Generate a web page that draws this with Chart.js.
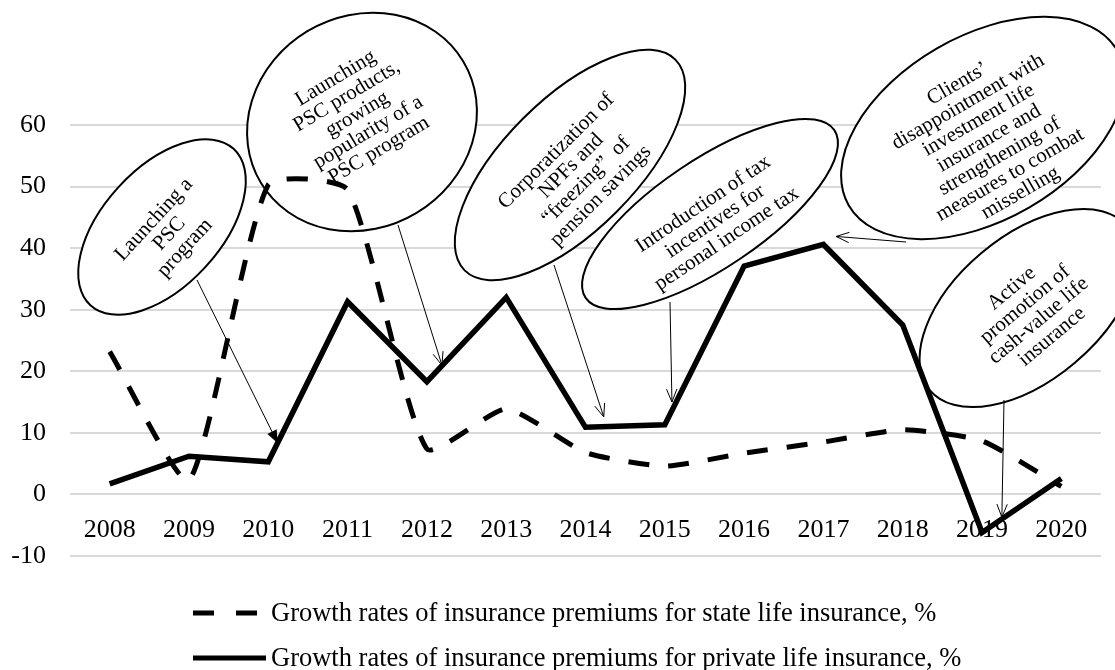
<!DOCTYPE html>
<html>
<head>
<meta charset="utf-8">
<script src="https://cdn.jsdelivr.net/npm/chart.js@4.4.1/dist/chart.umd.min.js"></script>
<style>
  html, body { margin: 0; padding: 0; background: #fff; }
</style>
</head>
<body>
<canvas id="growthChart" width="1115" height="670"></canvas>
<script>
const years = ['2008', '2009', '2010', '2011', '2012', '2013', '2014', '2015', '2016', '2017', '2018', '2019', '2020'];
const stateGrowth = [23.2, 2.3, 50.3, 49.5, 7.4, 13.9, 6.8, 4.6, 6.7, 8.5, 10.5, 8.7, 1.3];
const privateGrowth = [1.7, 6.2, 5.3, 31.3, 18.3, 32.0, 10.9, 11.3, 37.1, 40.6, 27.5, -6.2, 2.6];
const yTicks = [-10, 0, 10, 20, 30, 40, 50, 60];
const seriesNames = [
  'Growth rates of insurance premiums for state life insurance, %',
  'Growth rates of insurance premiums for private life insurance, %'
];

const serif = 'Liberation Serif, Times New Roman, serif';

// callout bubbles: ellipse in pixels, arrow starts on the ellipse edge (pixels)
// and points at a spot given in chart units (category index, value)
const callouts = [
  { lines: ['Launching a', 'PSC', 'program'],
    cx: 162, cy: 227, rx: 106, ry: 59, angle: -47.5, dy: 10, from: [197, 280], to: [2.12, 8.3], head: 'filled' },
  { lines: ['Launching', 'PSC products,', 'growing', 'popularity of a', 'PSC program'],
    cx: 362, cy: 122, rx: 118, ry: 106, angle: -31, dy: -9, from: [398, 225], to: [4.19, 21.0], head: 'open' },
  { lines: ['Corporatization of', 'NPFs and', '\u201cfreezing\u201d  of', 'pension savings'],
    cx: 570, cy: 165, rx: 149, ry: 66, angle: -45, dy: 12, from: [554, 265], to: [6.23, 12.6], head: 'open' },
  { lines: ['Introduction of tax', 'incentives for', 'personal income tax'],
    cx: 710, cy: 214, rx: 150, ry: 54, angle: -34, dy: 9, from: [670, 302], to: [7.09, 15.0], head: 'open' },
  { lines: ['Clients\u2019', 'disappointment with', 'investment life', 'insurance and', 'strengthening of', 'measures to combat', 'misselling'],
    cx: 983, cy: 128, rx: 155, ry: 92, angle: -30, dy: 12, from: [906, 242], to: [9.16, 41.9], head: 'open' },
  { lines: ['Active', 'promotion of', 'cash-value life', 'insurance'],
    cx: 1028, cy: 308, rx: 128, ry: 72, angle: -40, dy: 6, from: [1004, 400], to: [11.25, -3.7], head: 'open' }
];

function drawArrow(ctx, x0, y0, x1, y1, head) {
  const a = Math.atan2(y1 - y0, x1 - x0);
  const len = 14, spread = 0.38;
  ctx.beginPath();
  ctx.moveTo(x0, y0);
  ctx.lineTo(x1, y1);
  ctx.stroke();
  const p1 = [x1 - len * Math.cos(a - spread), y1 - len * Math.sin(a - spread)];
  const p2 = [x1 - len * Math.cos(a + spread), y1 - len * Math.sin(a + spread)];
  ctx.beginPath();
  if (head === 'filled') {
    ctx.moveTo(x1, y1);
    ctx.lineTo(p1[0], p1[1]);
    ctx.lineTo(p2[0], p2[1]);
    ctx.closePath();
    ctx.fill();
  } else {
    ctx.moveTo(p1[0], p1[1]);
    ctx.lineTo(x1, y1);
    ctx.lineTo(p2[0], p2[1]);
    ctx.stroke();
  }
}

const calloutPlugin = {
  id: 'callouts',
  beforeDatasetsDraw(chart) {
    const ctx = chart.ctx;
    ctx.save();
    callouts.forEach(c => {
      ctx.save();
      ctx.translate(c.cx, c.cy);
      ctx.rotate(c.angle * Math.PI / 180);
      ctx.beginPath();
      ctx.ellipse(0, 0, c.rx, c.ry, 0, 0, Math.PI * 2);
      ctx.fillStyle = '#fff';
      ctx.fill();
      ctx.lineWidth = 2;
      ctx.strokeStyle = '#000';
      ctx.stroke();
      ctx.fillStyle = '#000';
      ctx.font = '21px ' + serif;
      ctx.textAlign = 'center';
      ctx.textBaseline = 'middle';
      const lh = 21;
      c.lines.forEach((t, i) => {
        ctx.fillText(t, 0, (i - (c.lines.length - 1) / 2) * lh + c.dy);
      });
      ctx.restore();
    });
    ctx.restore();
  },
  afterDatasetsDraw(chart) {
    const ctx = chart.ctx;
    const xs = chart.scales.x, ys = chart.scales.y;
    ctx.save();
    ctx.strokeStyle = '#000';
    ctx.fillStyle = '#000';
    ctx.lineWidth = 1;
    callouts.forEach(c => {
      const tx = xs.getPixelForValue(c.to[0]);
      const ty = ys.getPixelForValue(c.to[1]);
      drawArrow(ctx, c.from[0], c.from[1], tx, ty, c.head);
    });
    ctx.restore();
  },
  afterDraw(chart) {
    // legend: two left-aligned rows under the plot
    const ctx = chart.ctx;
    const sets = chart.data.datasets;
    ctx.save();
    ctx.font = '26.5px ' + serif;
    ctx.fillStyle = '#000';
    ctx.strokeStyle = '#000';
    ctx.textBaseline = 'middle';
    const rows = [613, 658];
    sets.forEach((ds, i) => {
      const y = rows[i];
      ctx.lineWidth = 5;
      ctx.setLineDash(ds.borderDash ? [21, 22] : []);
      ctx.beginPath();
      ctx.moveTo(193, y);
      ctx.lineTo(i === 0 ? 257 : 266, y);
      ctx.stroke();
      ctx.setLineDash([]);
      ctx.fillText(ds.label, 271, y + 1);
    });
    ctx.restore();
  }
};

new Chart(document.getElementById('growthChart'), {
  type: 'line',
  data: {
    labels: years,
    datasets: [{
      label: seriesNames[0],
      data: stateGrowth,
      borderColor: '#000',
      borderWidth: 5,
      borderDash: [21, 19],
      tension: 0.18,
      pointRadius: 0,
      fill: false
    }, {
      label: seriesNames[1],
      data: privateGrowth,
      borderColor: '#000',
      borderWidth: 5.5,
      tension: 0,
      pointRadius: 0,
      fill: false
    }]
  },
  options: {
    responsive: false,
    animation: false,
    devicePixelRatio: 1,
    layout: { padding: { top: 125, bottom: 114, right: 14, left: 0 } },
    plugins: {
      legend: { display: false },
      tooltip: { enabled: false }
    },
    scales: {
      x: {
        position: { y: 0 },
        offset: true,
        grid: { display: false },
        border: { display: false },
        ticks: {
          color: '#000',
          font: { family: serif, size: 26 },
          padding: 12,
          maxRotation: 0,
          autoSkip: false
        }
      },
      y: {
        min: -10,
        max: 60,
        afterBuildTicks: s => { s.ticks = yTicks.map(v => ({ value: v })); },
        afterFit: s => { s.width = 70; },
        grid: { color: '#d9d9d9', lineWidth: 2, drawTicks: false },
        border: { display: false },
        ticks: {
          color: '#000',
          font: { family: serif, size: 26 },
          padding: 24
        }
      }
    }
  },
  plugins: [calloutPlugin]
});
</script>
</body>
</html>
